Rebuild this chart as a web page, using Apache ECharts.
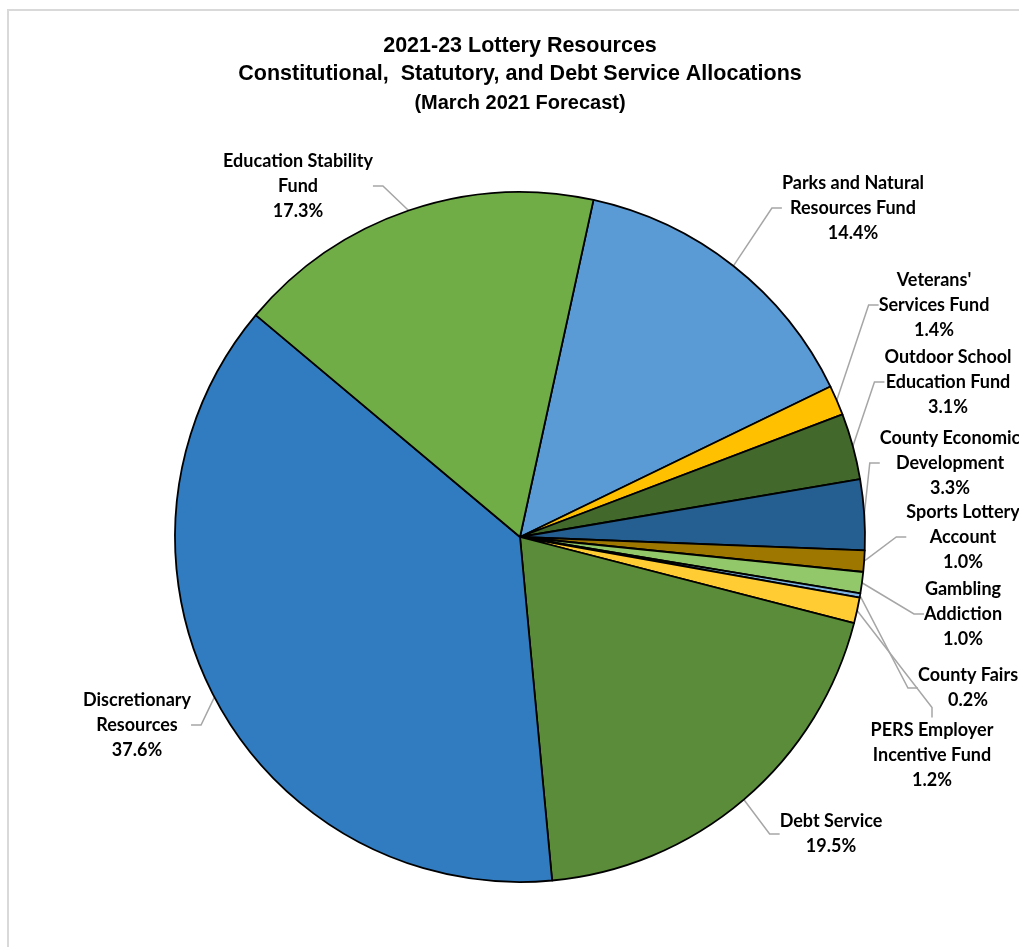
<!DOCTYPE html>
<html>
<head>
<meta charset="utf-8">
<script src="https://cdn.jsdelivr.net/npm/echarts@6/dist/echarts.min.js"></script>
<style>
html,body{margin:0;padding:0;background:#fff;}
#chart{width:1019px;height:947px;}
</style>
</head>
<body>
<div id="chart"></div>
<script>
// ---- data ----
var categories = [
  "Parks and Natural\nResources Fund",
  "Veterans'\nServices Fund",
  "Outdoor School\nEducation Fund",
  "County Economic\nDevelopment",
  "Sports Lottery\nAccount",
  "Gambling\nAddiction",
  "County Fairs",
  "PERS Employer\nIncentive Fund",
  "Debt Service",
  "Discretionary\nResources",
  "Education Stability\nFund"
];
var shares = [14.4, 1.4, 3.1, 3.3, 1.0, 1.0, 0.2, 1.2, 19.5, 37.6, 17.3];
var titleLines = ["2021-23 Lottery Resources", "Constitutional,  Statutory, and Debt Service Allocations", "(March 2021 Forecast)"];

// ---- styles / layout ----
var colors = ["#5B9BD5", "#FFC000", "#43682B", "#255E91", "#9E7700", "#92C86A", "#7FB3E3", "#FFCD33", "#5B8C3A", "#317CC1", "#70AD47"];
// label centre positions (layout only)
var labelCentres = [
  [853, 208], [934, 305], [948, 382], [950, 463], [963, 537], [963, 614],
  [968, 688], [932, 755], [831, 834], [137, 725], [298, 186]
];

var chart = echarts.init(document.getElementById('chart'), null, {renderer: 'canvas'});
var data = categories.map(function (c, i) {
  return {name: c, value: shares[i], itemStyle: {color: colors[i]}};
});

var font = 'Lato, "Open Sans", sans-serif';
var titleFont = '"Liberation Sans", sans-serif';
var titleSizes = [21.5, 21.5, 20];
var titleY = [46, 74, 103];
var graphics = [{
  type: 'rect',
  shape: {x: 8, y: 10, width: 1100, height: 1000},
  style: {fill: 'none', stroke: '#D9D9D9', lineWidth: 2},
  silent: true, z: -1
}];
titleLines.forEach(function (t, i) {
  graphics.push({
    type: 'text', x: 520, y: titleY[i], silent: true,
    style: {text: t, fill: '#000', font: 'bold ' + titleSizes[i] + 'px ' + titleFont,
            textAlign: 'center', textVerticalAlign: 'middle'}
  });
});

chart.setOption({
  backgroundColor: '#ffffff',
  animation: false,
  graphic: graphics,
  series: [{
    type: 'pie',
    center: [520, 537],
    radius: [0, 345],
    startAngle: 77.7,
    clockwise: true,
    avoidLabelOverlap: false,
    data: data,
    itemStyle: {borderColor: '#000', borderWidth: 1.8},
    label: {
      show: true,
      position: 'outside',
      formatter: function (p) { return p.name + '\n' + p.value.toFixed(1) + '%'; },
      fontFamily: font,
      fontWeight: 'bold',
      fontSize: 18,
      lineHeight: 25,
      color: '#000',
      align: 'center'
    },
    labelLine: {show: true, length: 20, length2: 10, lineStyle: {color: '#A6A6A6', width: 1.5}},
    labelLayout: function (params) {
      var c = labelCentres[params.dataIndex];
      return {x: c[0], y: c[1], align: 'center', verticalAlign: 'middle'};
    },
    emphasis: {disabled: true}
  }]
});
</script>
</body>
</html>
